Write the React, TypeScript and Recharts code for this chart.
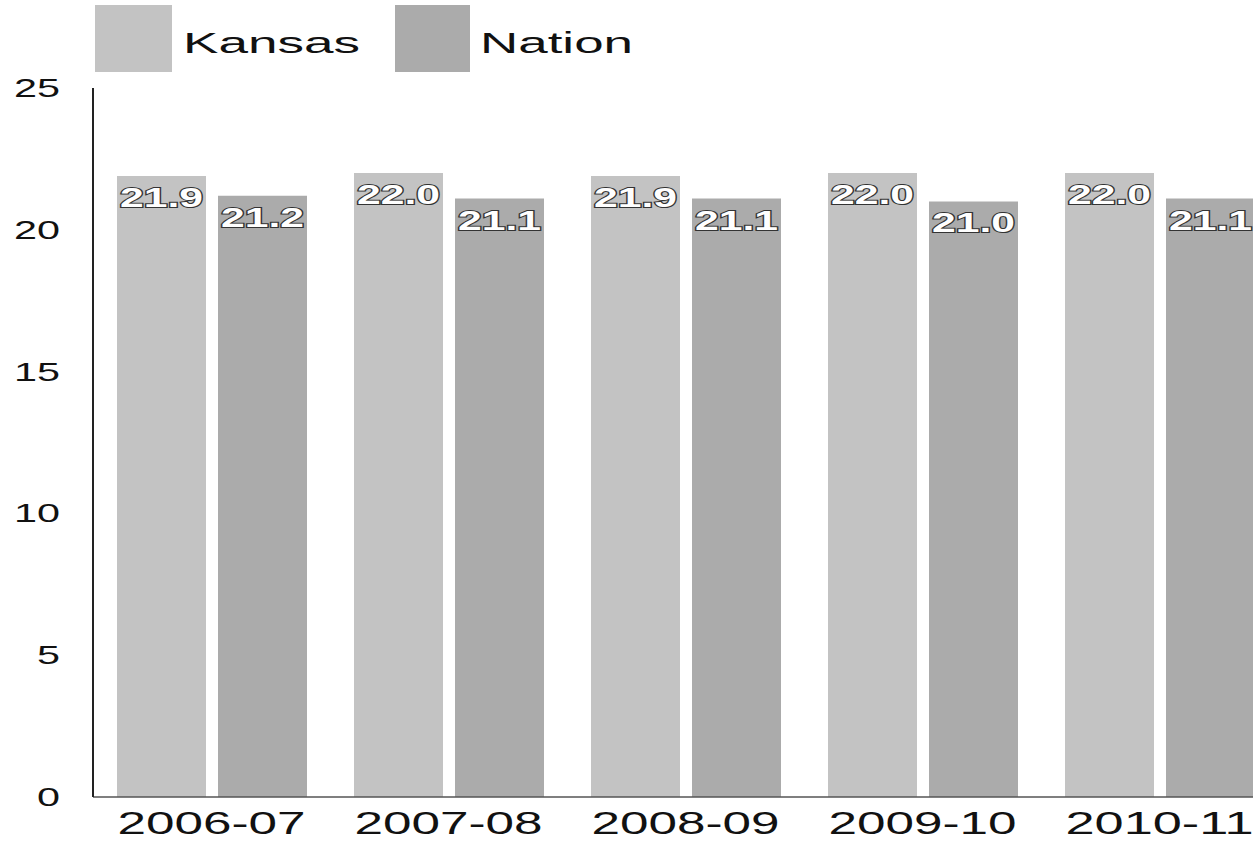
import { BarChart, Bar, XAxis, YAxis, Legend, LabelList } from "recharts";

const seasons = ["2006-07", "2007-08", "2008-09", "2009-10", "2010-11"];
const kansas = [21.9, 22.0, 21.9, 22.0, 22.0];
const nation = [21.2, 21.1, 21.1, 21.0, 21.1];
const yTicks = [0, 5, 10, 15, 20, 25];

const data = seasons.map((season, i) => ({
  season,
  Kansas: kansas[i],
  Nation: nation[i],
}));

const FONT = "'Liberation Sans', Arial, sans-serif";
const KANSAS_FILL = "#c3c3c3";
const NATION_FILL = "#ababab";

// the scan is stretched sideways, so text is squeezed into a wider box
const XTick = (props: any) => {
  const { x, y, payload } = props;
  return (
    <text
      x={x}
      y={y + 35}
      textAnchor="middle"
      fontFamily={FONT}
      fontSize={31}
      fill="#111"
      textLength={188}
      lengthAdjust="spacingAndGlyphs"
    >
      {payload.value}
    </text>
  );
};

const YTick = (props: any) => {
  const { x, y, payload } = props;
  const s = String(payload.value);
  return (
    <text
      x={x}
      y={y + 9}
      textAnchor="end"
      fontFamily={FONT}
      fontSize={25}
      fill="#111"
      textLength={s.length * 23}
      lengthAdjust="spacingAndGlyphs"
    >
      {s}
    </text>
  );
};

const BarValue = (props: any) => {
  const { x, y, width, value } = props;
  return (
    <text
      x={x + width / 2}
      y={y + 31}
      textAnchor="middle"
      fontFamily={FONT}
      fontWeight="bold"
      fontSize={28}
      fill="#fff"
      stroke="#333"
      strokeWidth={2}
      paintOrder="stroke"
      textLength={width - 6}
      lengthAdjust="spacingAndGlyphs"
    >
      {Number(value).toFixed(1)}
    </text>
  );
};

const LegendBox = () => (
  <svg width={700} height={80} style={{ display: "block" }}>
    <rect x={95} y={5} width={77} height={67} fill={KANSAS_FILL} />
    <text
      x={183}
      y={53}
      fontFamily={FONT}
      fontSize={29}
      fill="#111"
      textLength={177}
      lengthAdjust="spacingAndGlyphs"
    >
      Kansas
    </text>
    <rect x={395} y={5} width={75} height={67} fill={NATION_FILL} />
    <text
      x={480}
      y={53}
      fontFamily={FONT}
      fontSize={29}
      fill="#111"
      textLength={153}
      lengthAdjust="spacingAndGlyphs"
    >
      Nation
    </text>
  </svg>
);

export default function App() {
  return (
    <div
      style={{
        position: "fixed",
        left: 0,
        top: 0,
        width: 1253,
        height: 851,
        overflow: "hidden",
        background: "#fff",
      }}
    >
      <BarChart
        width={1280}
        height={851}
        data={data}
        margin={{ top: 8, right: 2, bottom: 0, left: 0 }}
        barCategoryGap={24}
        barGap={12}
      >
        <Legend
          content={LegendBox}
          verticalAlign="top"
          height={80}
          wrapperStyle={{ position: "absolute", top: 0, left: 0, width: 700 }}
        />
        <XAxis
          dataKey="season"
          height={54}
          tick={XTick}
          tickLine={false}
          tickSize={0}
          axisLine={{ stroke: "#555", strokeWidth: 1.5 }}
          interval={0}
        />
        <YAxis
          width={93}
          domain={[0, 25]}
          ticks={yTicks}
          tick={YTick}
          tickLine={false}
          tickSize={0}
          tickMargin={33}
          axisLine={{ stroke: "#222", strokeWidth: 2 }}
        />
        <Bar dataKey="Kansas" fill={KANSAS_FILL} isAnimationActive={false}>
          <LabelList dataKey="Kansas" content={BarValue} />
        </Bar>
        <Bar dataKey="Nation" fill={NATION_FILL} isAnimationActive={false}>
          <LabelList dataKey="Nation" content={BarValue} />
        </Bar>
      </BarChart>
    </div>
  );
}
